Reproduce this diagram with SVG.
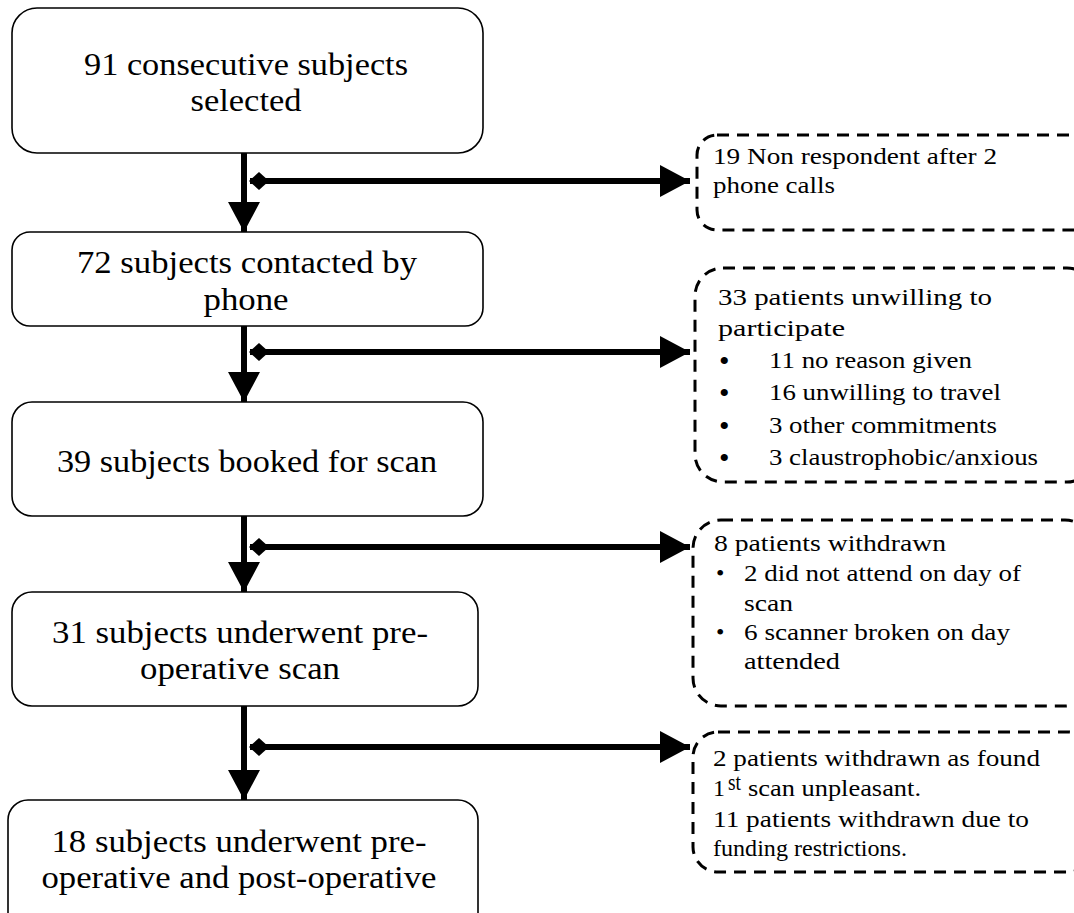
<svg xmlns="http://www.w3.org/2000/svg" width="1074" height="913" viewBox="0 0 1074 913">
<style>
.box{fill:#fff;stroke:#000;stroke-width:1.6}
.dbox{fill:#fff;stroke:#000;stroke-width:3;stroke-dasharray:12 8}
.t{font-family:"Liberation Serif","Times New Roman",serif;font-size:31px;fill:#000;text-anchor:middle}
.s{font-family:"Liberation Serif","Times New Roman",serif;font-size:24px;fill:#000}
.b{font-family:"Liberation Serif","Times New Roman",serif;font-size:30px;fill:#000}
.ln{stroke:#000;stroke-width:6;fill:none}
</style>
<defs>
<marker id="ah" markerUnits="userSpaceOnUse" markerWidth="32" markerHeight="32" refX="30" refY="16" orient="auto">
<path d="M0,0 L30,16 L0,32 Z" fill="#000"/>
</marker>
<marker id="dm" markerUnits="userSpaceOnUse" markerWidth="22" markerHeight="22" refX="2" refY="11" orient="auto">
<path d="M1,11 L11,2 L21,11 L11,20 Z" fill="#000"/>
</marker>
</defs>
<rect width="1074" height="913" fill="#fff"/>
<g id="connectors">
<line class="ln" x1="244" y1="153" x2="244" y2="232" marker-end="url(#ah)"/>
<line class="ln" x1="250" y1="181" x2="690" y2="181" marker-start="url(#dm)" marker-end="url(#ah)"/>
<line class="ln" x1="244" y1="326" x2="244" y2="402" marker-end="url(#ah)"/>
<line class="ln" x1="250" y1="352" x2="690" y2="352" marker-start="url(#dm)" marker-end="url(#ah)"/>
<line class="ln" x1="244" y1="516" x2="244" y2="592" marker-end="url(#ah)"/>
<line class="ln" x1="250" y1="547" x2="690" y2="547" marker-start="url(#dm)" marker-end="url(#ah)"/>
<line class="ln" x1="244" y1="706" x2="244" y2="800" marker-end="url(#ah)"/>
<line class="ln" x1="250" y1="747" x2="690" y2="747" marker-start="url(#dm)" marker-end="url(#ah)"/>
</g>
<g id="n1">
<rect class="box" x="12" y="8" width="471" height="145" rx="25"/>
<text class="t" x="246" y="75" textLength="324" lengthAdjust="spacingAndGlyphs">91 consecutive subjects</text>
<text class="t" x="246" y="111" textLength="111" lengthAdjust="spacingAndGlyphs">selected</text>
</g>
<g id="n2">
<rect class="box" x="12" y="232" width="471" height="94" rx="18"/>
<text class="t" x="247" y="273" textLength="340" lengthAdjust="spacingAndGlyphs">72 subjects contacted by</text>
<text class="t" x="246" y="310" textLength="85" lengthAdjust="spacingAndGlyphs">phone</text>
</g>
<g id="n3">
<rect class="box" x="12" y="402" width="471" height="114" rx="20"/>
<text class="t" x="247" y="472" textLength="380" lengthAdjust="spacingAndGlyphs">39 subjects booked for scan</text>
</g>
<g id="n4">
<rect class="box" x="12" y="592" width="466" height="114" rx="20"/>
<text class="t" x="240" y="643" textLength="376" lengthAdjust="spacingAndGlyphs">31 subjects underwent pre-</text>
<text class="t" x="240" y="679" textLength="200" lengthAdjust="spacingAndGlyphs">operative scan</text>
</g>
<g id="n5">
<rect class="box" x="8" y="800" width="470" height="140" rx="20"/>
<text class="t" x="239" y="852" textLength="375" lengthAdjust="spacingAndGlyphs">18 subjects underwent pre-</text>
<text class="t" x="239" y="888" textLength="395" lengthAdjust="spacingAndGlyphs">operative and post-operative</text>
</g>
<g id="d1">
<rect class="dbox" x="697" y="135" width="400" height="95" rx="20"/>
<text class="s" x="713" y="164" textLength="284" lengthAdjust="spacingAndGlyphs">19 Non respondent after 2</text>
<text class="s" x="713" y="193" textLength="122" lengthAdjust="spacingAndGlyphs">phone calls</text>
</g>
<g id="d2">
<rect class="dbox" x="695" y="268" width="400" height="214" rx="28"/>
<text class="s" x="718" y="305" textLength="274" lengthAdjust="spacingAndGlyphs">33 patients unwilling to</text>
<text class="s" x="718" y="336" textLength="127" lengthAdjust="spacingAndGlyphs">participate</text>
<text class="b" x="719" y="371">•</text><text class="s" x="769" y="368" textLength="203" lengthAdjust="spacingAndGlyphs">11 no reason given</text>
<text class="b" x="719" y="403">•</text><text class="s" x="769" y="400" textLength="232" lengthAdjust="spacingAndGlyphs">16 unwilling to travel</text>
<text class="b" x="719" y="436">•</text><text class="s" x="769" y="433" textLength="228" lengthAdjust="spacingAndGlyphs">3 other commitments</text>
<text class="b" x="719" y="468">•</text><text class="s" x="769" y="465" textLength="269" lengthAdjust="spacingAndGlyphs">3 claustrophobic/anxious</text>
</g>
<g id="d3">
<rect class="dbox" x="693" y="520" width="400" height="186" rx="28"/>
<text class="s" x="714" y="551" textLength="232" lengthAdjust="spacingAndGlyphs">8 patients withdrawn</text>
<text class="s" x="716" y="581">•</text><text class="s" x="744" y="581" textLength="277" lengthAdjust="spacingAndGlyphs">2 did not attend on day of</text>
<text class="s" x="744" y="611" textLength="49" lengthAdjust="spacingAndGlyphs">scan</text>
<text class="s" x="716" y="640">•</text><text class="s" x="744" y="640" textLength="266" lengthAdjust="spacingAndGlyphs">6 scanner broken on day</text>
<text class="s" x="744" y="669" textLength="96" lengthAdjust="spacingAndGlyphs">attended</text>
</g>
<g id="d4">
<rect class="dbox" x="693" y="732" width="400" height="140" rx="25"/>
<text class="s" x="713" y="766" textLength="327" lengthAdjust="spacingAndGlyphs">2 patients withdrawn as found</text>
<text class="s" x="713" y="796">1</text>
<text class="s" x="728" y="790" font-size="13" textLength="13" lengthAdjust="spacingAndGlyphs">st</text>
<text class="s" x="748" y="796" textLength="173" lengthAdjust="spacingAndGlyphs">scan unpleasant.</text>
<text class="s" x="713" y="827" textLength="316" lengthAdjust="spacingAndGlyphs">11 patients withdrawn due to</text>
<text class="s" x="713" y="856" textLength="194" lengthAdjust="spacingAndGlyphs">funding restrictions.</text>
</g>
</svg>
